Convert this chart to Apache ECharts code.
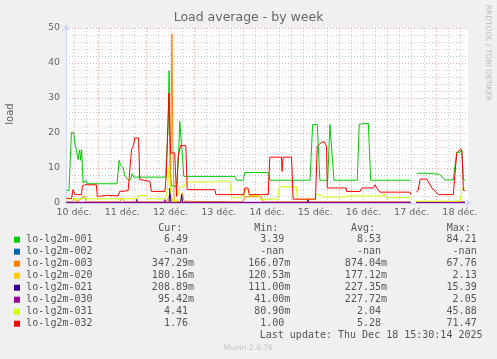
<!DOCTYPE html>
<html><head><meta charset="utf-8">
<script src="https://cdn.jsdelivr.net/npm/echarts@6/dist/echarts.min.js"></script>
<style>html,body{margin:0;padding:0;background:#f0f0f0}#c{width:497px;height:359px}</style>
</head><body><div id="c"></div>
<script>
// x values: hours since 10 déc. 00:00
const dayLabels = ['10 déc.','11 déc.','12 déc.','13 déc.','14 déc.','15 déc.','16 déc.','17 déc.','18 déc.'];
const labelHours = [12,36,60,84,108,132,156,180,204];
const majorHours = [24,48,72,96,120,144,168,192];
const minorHours = [12,18,30,36,42,54,60,66,78,84,90,102,108,114,126,132,138,150,156,162,174,180,186,198,204];
const names = ['lo-lg2m-001','lo-lg2m-002','lo-lg2m-003','lo-lg2m-020','lo-lg2m-021','lo-lg2m-030','lo-lg2m-031','lo-lg2m-032'];
const colors = ['#00CC00','#0066B3','#FF8000','#FFCC00','#330099','#990099','#CCFF00','#FF0000'];
const curVals = ['6.49','-nan','347.29m','180.16m','208.89m','95.42m','4.41','1.76'];
const minVals = ['3.39','-nan','166.07m','120.53m','111.00m','41.00m','80.90m','1.00'];
const avgVals = ['8.53','-nan','874.04m','177.12m','227.35m','227.72m','2.04','5.28'];
const maxVals = ['84.21','-nan','67.76','2.13','15.39','2.05','45.88','71.47'];

const s001 = [[8.2,3.6],[9.5,3.6],[10.7,20.2],[11.8,20.2],[12.3,17.1],[13.2,15.2],[14.0,12.4],[14.8,15.2],[15.3,12.2],[15.8,15.2],[16.5,5.7],[17.8,6.6],[18.5,5.5],[33.4,5.5],[34.4,12.2],[35.1,10.9],[36.4,10],[37.2,7.8],[38.9,6.6],[40.1,6.6],[40.9,8.4],[41.7,7.4],[57.6,7.4],[58.3,7.6],[58.8,22],[59.3,37.8],[59.8,10],[60.4,5],[61.3,4.7],[63.0,4.7],[63.9,12],[64.6,23.3],[65.4,23.3],[66.1,12],[66.6,7.6],[92.0,7.6],[92.9,6.5],[96.1,6.5],[97.0,8.7],[108.6,8.7],[109.4,6.5],[129.4,6.5],[130.7,22.4],[133.0,22.4],[134.3,6.5],[138.2,6.5],[139.3,22.4],[140.2,22.4],[141.3,6.5],[152.9,6.5],[153.9,22.5],[158.4,22.8],[159.6,6.5],[179.5,6.5],[181,null],[182.5,8.5],[188.3,8.5],[193.8,8.2],[196.6,6.6],[200.7,6.6],[202.4,14.5],[204.1,14.5],[204.9,15.2],[205.7,6.7],[206.5,6.5]];
const s002 = [];
const s003 = [[8.2,0.3],[11.5,0.3],[12.0,1.2],[13.9,0.3],[15.8,1.6],[17.3,1.9],[18.1,0.3],[34.7,0.3],[35.7,1.5],[37.2,0.3],[57.6,0.3],[59.9,2],[60.4,30],[60.7,48.3],[61.1,20],[61.8,0.5],[65.0,0.5],[65.8,2.9],[66.8,0.5],[96.0,0.3],[97.0,1.8],[105.3,1.8],[105.9,0.3],[179.5,0.3],[181,null],[182.2,0.3],[206.5,0.35]];
const s020 = [[8.2,0.15],[11.5,0.15],[12.3,1.3],[13.5,0.15],[59.0,0.15],[60.0,2.0],[61.0,0.15],[179.5,0.15],[181,null],[182.2,0.15],[206.5,0.18]];
const s021 = [[8.2,0.2],[59.3,0.2],[59.7,4.3],[60.2,0.2],[65.1,0.2],[65.5,2.4],[66.0,0.2],[128.0,0.2],[128.4,1.0],[128.9,0.2],[179.5,0.2],[181,null],[182.2,0.2],[206.5,0.21]];
const s030 = [[8.2,0.1],[42.9,0.1],[43.2,1.2],[43.6,0.1],[57.0,0.1],[57.2,1.0],[57.5,0.1],[179.5,0.1],[181,null],[182.2,0.1],[206.5,0.1]];
const s031 = [[8.2,1.2],[43.1,1.2],[43.7,2.1],[48.2,2.1],[48.8,1.2],[57.6,1.2],[58.6,5],[59.3,10.5],[60.1,3],[61.1,0.5],[63.0,0.5],[64.6,4.6],[66.6,4.6],[68.0,6.0],[81.2,6.0],[82.9,6.3],[89.5,6.3],[90.4,1.5],[94.5,1.5],[95.5,2.1],[96.5,2.1],[97.0,3.8],[98.5,3.8],[99.5,2.1],[104.0,2.1],[104.5,1.1],[113.4,1.1],[114.1,4.6],[122.7,4.6],[123.1,1.1],[131.9,1.1],[132.4,2.4],[134.3,2.4],[135.3,1.7],[146.8,1.7],[148.3,2.0],[165.7,2.0],[166.2,2.7],[167.2,1.5],[179.5,1.5],[181,null],[182.2,0.5],[204.1,0.5],[205.0,4.0],[206.5,4.4]];
const s032 = [[8.2,1.4],[10.7,1.2],[11.5,3.8],[12.5,2.4],[15.7,2.4],[16.2,4.9],[17.3,5.2],[23.1,5.2],[23.6,1.9],[28.8,2.2],[33.9,2.0],[34.7,3.3],[38.9,3.5],[39.7,3.8],[40.6,15.2],[41.7,16.7],[42.2,18.6],[44.1,18.6],[44.7,6.7],[45.5,6.4],[49.7,6.2],[50.5,3.3],[57.2,3.3],[57.9,8],[59.2,31.4],[60.0,14.3],[62.1,14.3],[63.0,1.9],[63.8,13.3],[65.0,16.4],[67.6,16.4],[68.3,3.8],[82.1,3.8],[82.6,2.4],[96.5,2.4],[97.0,4.3],[98.5,4.3],[99.2,2.4],[108.6,2.4],[109.4,13.1],[115.2,13.1],[115.5,9],[116.0,13.1],[120.2,13.1],[121.0,1.1],[132.1,1.1],[133.0,16.2],[135.2,17.4],[136.8,17.4],[137.6,16],[138.0,4.3],[147.3,4.3],[147.6,3.3],[154.3,3.3],[155.1,4.3],[160.9,4.3],[161.7,5.2],[162.6,4.3],[164.2,3.1],[179.2,3.1],[179.5,2.4],[181,null],[182.2,3.1],[183.2,3.6],[184.2,6.8],[187.5,6.8],[190.0,4.3],[193.3,2.4],[200.7,2.4],[202.4,14.3],[204.4,15.4],[205.0,14.5],[205.7,3.6],[206.5,3.6]];
const seriesData = [s001,s002,s003,s020,s021,s030,s031,s032];

const FONT = 'DejaVu Sans';
const MONO = 'DejaVu Sans Mono';
const gridCol = 'rgba(143,143,143,0.45)';
const mgridCol = 'rgba(222,79,79,0.5)';
const axisCol = '#CFD6F8';
const dash = [1,2];

const chart = echarts.init(document.getElementById('c'), null, {renderer:'canvas'});

const graphics = [];
graphics.push({type:'text', x:10.5, y:114, rotation:Math.PI/2, style:{text:'load', font:'10px '+FONT, fill:'#666', align:'center', verticalAlign:'middle'}});
graphics.push({type:'text', x:488, y:53, rotation:-Math.PI/2, style:{text:'RRDTOOL / TOBI OETIKER', font:'7.5px '+FONT, fill:'#bbb', align:'center', verticalAlign:'middle'}});
const colRight = [194, 290.3, 387, 482.7];
const headers = ['Cur:','Min:','Avg:','Max:'];
const headerLeft = [158.3, 254.3, 351, 446.7];
const legendFont = '10px '+MONO;
const legendCol = '#555';
headers.forEach((h,i)=>graphics.push({type:'text', x:headerLeft[i], y:228.3, style:{text:h, font:legendFont, fill:legendCol, align:'left', verticalAlign:'middle'}}));
const pad = s => /m$/.test(s) ? s : s + ' ';
names.forEach((n,i)=>{
  const y = 239.7 + i*12;
  graphics.push({type:'rect', shape:{x:14, y:y-3, width:6, height:6}, style:{fill:colors[i]}});
  graphics.push({type:'text', x:26.3, y:y, style:{text:n, font:legendFont, fill:legendCol, align:'left', verticalAlign:'middle'}});
  [curVals,minVals,avgVals,maxVals].forEach((arr,j)=>{
    graphics.push({type:'text', x:colRight[j], y:y, style:{text:pad(arr[i]), font:legendFont, fill:legendCol, align:'right', verticalAlign:'middle'}});
  });
});
graphics.push({type:'text', x:482.5, y:335.7, style:{text:'Last update: Thu Dec 18 15:30:14 2025', font:legendFont, fill:legendCol, align:'right', verticalAlign:'middle'}});
graphics.push({type:'text', x:248.3, y:348.3, style:{text:'Munin 2.0.76', font:'7.5px '+FONT, fill:'#c0c0c0', align:'center', verticalAlign:'middle'}});

const option = {
  animation:false,
  backgroundColor:'#f0f0f0',
  title:{text:'Load average - by week', left:'center', top:11, padding:0, textStyle:{fontFamily:FONT, fontSize:12.5, fontWeight:'normal', color:'#666'}},
  grid:{left:66, top:28, width:402, height:175, show:true, backgroundColor:'#ffffff', borderWidth:0, containLabel:false},
  xAxis:[
    {type:'value', min:8, max:208, position:'bottom', z:1,
     axisLine:{show:false},
     axisTick:{show:false, customValues:minorHours},
     axisLabel:{show:false},
     splitLine:{show:true, lineStyle:{color:gridCol, width:1, type:dash}}},
    {type:'value', min:8, max:208, position:'bottom', z:2,
     axisLine:{show:true, onZero:false, lineStyle:{color:axisCol, width:1}, symbol:['none','arrow'], symbolSize:[6,7], symbolOffset:[0,4]},
     axisTick:{show:false, customValues:majorHours},
     axisLabel:{show:true, customValues:labelHours, margin:5, fontFamily:FONT, fontSize:9.5, color:'#666',
       formatter:v=>dayLabels[labelHours.indexOf(v)]},
     splitLine:{show:true, lineStyle:{color:mgridCol, width:1, type:dash}}}
  ],
  yAxis:{type:'value', min:0, max:50, interval:10,
    axisLine:{show:true, onZero:false, lineStyle:{color:axisCol, width:1}, symbol:['none','arrow'], symbolSize:[6,7], symbolOffset:[0,4]},
    axisTick:{show:false},
    minorTick:{show:false, splitNumber:5},
    minorSplitLine:{show:true, lineStyle:{color:gridCol, width:1, type:dash}},
    splitLine:{show:true, lineStyle:{color:mgridCol, width:1, type:dash}},
    axisLabel:{margin:6, fontFamily:FONT, fontSize:9.5, color:'#666'}},
  series: names.map((n,i)=>({
    name:n, type:'line', xAxisIndex:1, data:seriesData[i], showSymbol:false, symbol:'none',
    connectNulls:false, silent:true, lineStyle:{color:colors[i], width:1}, itemStyle:{color:colors[i]},
    emphasis:{disabled:true}
  })),
  graphic:graphics
};
chart.setOption(option);
</script></body></html>
